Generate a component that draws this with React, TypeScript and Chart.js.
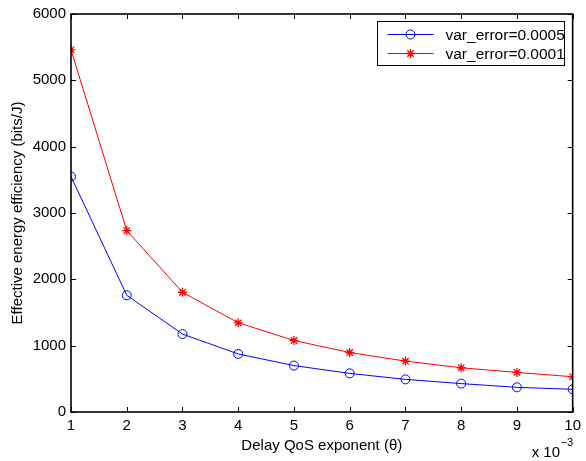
import React, { useEffect, useRef } from "react";
import { Chart, registerables } from "chart.js";
Chart.register(...registerables);

const thetaValues = [1, 2, 3, 4, 5, 6, 7, 8, 9, 10];
const effVar0005 = [3550, 1760, 1175, 875, 700, 582, 492, 428, 372, 342];
const effVar0001 = [5460, 2735, 1805, 1345, 1078, 897, 767, 667, 597, 531];
const seriesLabels = ["var_error=0.0005", "var_error=0.0001"];
const seriesColors = ["#0000ff", "#ff0000"];
const seriesMarkers = ["circle", "star"];
const xTitle = "Delay QoS exponent (θ)";
const yTitle = "Effective energy efficiency (bits/J)";
const expLabel = "x 10";
const expSup = "−3";

const FONT = "'Liberation Sans', Arial, Helvetica, sans-serif";
const FS = 15;

function drawMarker(ctx: CanvasRenderingContext2D, style: string, x: number, y: number, r: number, color: string) {
  ctx.save();
  ctx.strokeStyle = color;
  ctx.lineWidth = style === "circle" ? 1 : 1.3;
  ctx.beginPath();
  if (style === "circle") {
    ctx.arc(x, y, r, 0, Math.PI * 2);
  } else {
    for (let i = 0; i < 4; i++) {
      const ang = (i * Math.PI) / 4;
      ctx.moveTo(x - r * Math.cos(ang), y - r * Math.sin(ang));
      ctx.lineTo(x + r * Math.cos(ang), y + r * Math.sin(ang));
    }
  }
  ctx.stroke();
  ctx.restore();
}

const matlabPlugin = {
  id: "matlabFrame",
  afterDraw(chart: any) {
    const { ctx, chartArea: a, scales } = chart;
    const xs = scales.x;
    const ys = scales.y;
    ctx.save();
    ctx.strokeStyle = "#000";
    ctx.lineWidth = 1.6;
    ctx.strokeRect(a.left, a.top, a.right - a.left, a.bottom - a.top);
    ctx.lineWidth = 1;
    const tl = 5;
    ctx.beginPath();
    xs.ticks.forEach((t: any) => {
      const px = Math.round(xs.getPixelForValue(t.value)) + 0.5;
      ctx.moveTo(px, a.bottom);
      ctx.lineTo(px, a.bottom - tl);
      ctx.moveTo(px, a.top);
      ctx.lineTo(px, a.top + tl);
    });
    ys.ticks.forEach((t: any) => {
      const py = Math.round(ys.getPixelForValue(t.value)) + 0.5;
      ctx.moveTo(a.left, py);
      ctx.lineTo(a.left + tl, py);
      ctx.moveTo(a.right, py);
      ctx.lineTo(a.right - tl, py);
    });
    ctx.stroke();

    // exponent label
    ctx.fillStyle = "#000";
    ctx.font = `${FS}px ${FONT}`;
    ctx.textBaseline = "middle";
    ctx.textAlign = "left";
    ctx.fillText(expLabel, a.right - 41, a.bottom + 41);
    ctx.font = `11px ${FONT}`;
    ctx.fillText(expSup, a.right - 12, a.bottom + 31);

    // legend
    const bx = Math.round(a.right - 196) + 0.5;
    const by = Math.round(a.top + 7) + 0.5;
    const bw = 187;
    const bh = 44;
    ctx.fillStyle = "#fff";
    ctx.fillRect(bx, by, bw, bh);
    ctx.strokeStyle = "#000";
    ctx.lineWidth = 1;
    ctx.strokeRect(bx, by, bw, bh);
    ctx.font = `15.5px ${FONT}`;
    seriesLabels.forEach((lab, i) => {
      const ry = by + 13 + i * 19;
      ctx.strokeStyle = seriesColors[i];
      ctx.lineWidth = 1;
      ctx.beginPath();
      ctx.moveTo(bx + 10, ry);
      ctx.lineTo(bx + 56, ry);
      ctx.stroke();
      drawMarker(ctx, seriesMarkers[i], bx + 33, ry, 4.5, seriesColors[i]);
      ctx.fillStyle = "#000";
      ctx.fillText(lab, bx + 68, ry + 1);
    });
    ctx.restore();
  },
};

export default function App() {
  const ref = useRef<HTMLCanvasElement | null>(null);
  useEffect(() => {
    if (!ref.current) return;
    const mk = (vals: number[], i: number) => ({
      label: seriesLabels[i],
      data: thetaValues.map((t, k) => ({ x: t, y: vals[k] })),
      borderColor: seriesColors[i],
      backgroundColor: "transparent",
      borderWidth: 1,
      pointStyle: seriesMarkers[i] as any,
      pointRadius: 4.5,
      pointBorderWidth: i === 0 ? 1 : 1.3,
      pointBorderColor: seriesColors[i],
      pointBackgroundColor: "transparent",
      tension: 0,
    });
    const chart = new Chart(ref.current, {
      type: "line",
      data: { datasets: [mk(effVar0005, 0), mk(effVar0001, 1)] },
      options: {
        animation: false,
        responsive: false,
        maintainAspectRatio: false,
        layout: { padding: { left: 0, top: 13, right: 8, bottom: 0 } },
        plugins: { legend: { display: false }, tooltip: { enabled: false } },
        scales: {
          x: {
            type: "linear",
            min: 1,
            max: 10,
            ticks: { stepSize: 1, color: "#000", font: { family: FONT, size: FS }, padding: 5, maxRotation: 0, callback: (v: any) => String(v) },
            grid: { display: false, drawTicks: false },
            border: { display: false },
            title: { display: true, text: xTitle, color: "#000", font: { family: FONT, size: FS }, padding: { top: 2, bottom: 6 } },
            afterFit: (s: any) => { s.height = 49; },
          },
          y: {
            type: "linear",
            min: 0,
            max: 6000,
            ticks: { stepSize: 1000, color: "#000", font: { family: FONT, size: FS }, padding: 5, callback: (v: any) => String(v) },
            grid: { display: false, drawTicks: false },
            border: { display: false },
            title: { display: true, text: yTitle, color: "#000", font: { family: FONT, size: FS }, padding: { top: 9, bottom: 6 } },
            afterFit: (s: any) => { s.width = 71; },
          },
        },
      },
      plugins: [matlabPlugin],
    });
    return () => chart.destroy();
  }, []);
  return (
    <div style={{ position: "fixed", left: 0, top: 0, width: 586, height: 461, background: "#fff" }}>
      <canvas ref={ref} width={586} height={461} style={{ display: "block", width: 586, height: 461 }} />
    </div>
  );
}
